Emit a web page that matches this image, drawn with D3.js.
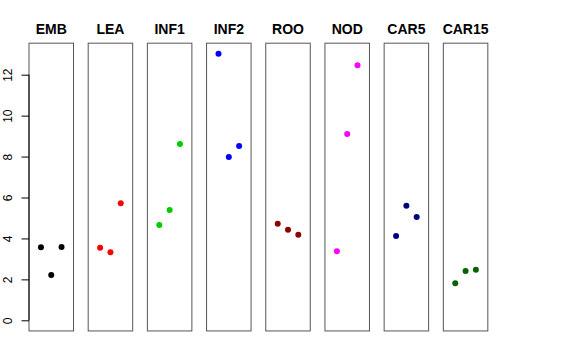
<!DOCTYPE html>
<html><head><meta charset="utf-8">
<script src="https://cdn.jsdelivr.net/npm/d3@7"></script>
<style>body{margin:0;background:#fff}svg{display:block}</style>
</head><body>
<script>
const categories = ["EMB","LEA","INF1","INF2","ROO","NOD","CAR5","CAR15"];
const colors = ["#000000","#FF0000","#00CD00","#0000FF","#8B0000","#FF00FF","#000080","#006400"];
const EMB  = [3.57, 2.21, 3.58];
const LEA  = [3.55, 3.32, 5.72];
const INF1 = [4.66, 5.39, 8.61];
const INF2 = [13.02, 7.98, 8.52];
const ROO  = [4.72, 4.43, 4.18];
const NOD  = [3.37, 9.10, 12.46];
const CAR5 = [4.12, 5.60, 5.05];
const CAR15 = [1.81, 2.41, 2.47];
const seriesValues = [EMB, LEA, INF1, INF2, ROO, NOD, CAR5, CAR15];
const yTicks = [0, 2, 4, 6, 8, 10, 12];

const W = 576, H = 360;
const svg = d3.select("body").append("svg").attr("width", W).attr("height", H);

const y = d3.scaleLinear().domain([0, 12]).range([320.3, 74.7]);
const yLo = -0.52, yHi = 13.54;
const panelX = d3.scaleBand().domain(categories).range([29, 29 + 59.19 * 8]).paddingInner(0).paddingOuter(0);
const panelW = 44.5;

categories.forEach((cat, i) => {
  const left = panelX(cat);
  const x = d3.scaleLinear().domain([-0.16, 4.16]).range([left, left + panelW]);
  const g = svg.append("g");
  g.append("rect")
    .attr("x", left).attr("y", y(yHi))
    .attr("width", panelW).attr("height", y(yLo) - y(yHi))
    .attr("fill", "none").attr("stroke", "#555").attr("stroke-width", 1);
  g.append("text")
    .attr("x", left + panelW / 2).attr("y", 34.3)
    .attr("text-anchor", "middle")
    .attr("font-family", "Liberation Sans, Arial, sans-serif")
    .attr("font-weight", "bold").attr("font-size", 14)
    .text(cat);
  g.selectAll("circle").data(seriesValues[i]).enter().append("circle")
    .attr("cx", (d, j) => x(j + 1))
    .attr("cy", d => y(d))
    .attr("r", 3)
    .attr("fill", colors[i]);
});

// y axis
const axisG = svg.append("g").attr("transform", "translate(29,0)");
const axis = d3.axisLeft(y).tickValues(yTicks).tickSize(7.5).tickPadding(0).tickFormat(d3.format("d"));
axisG.call(axis);
axisG.select(".domain").attr("d", `M0,${y(0)}V${y(12)}`).attr("stroke", "#000");
axisG.selectAll(".tick line").attr("stroke", "#000");
axisG.selectAll(".tick text")
  .attr("font-family", "Liberation Sans, Arial, sans-serif")
  .attr("font-size", 12)
  .attr("fill", "#000")
  .attr("x", null).attr("dy", null)
  .attr("text-anchor", "middle")
  .attr("transform", "translate(-17,0) rotate(-90)")
  .attr("dy", "0")
  .attr("y", 0);
</script>
</body></html>
